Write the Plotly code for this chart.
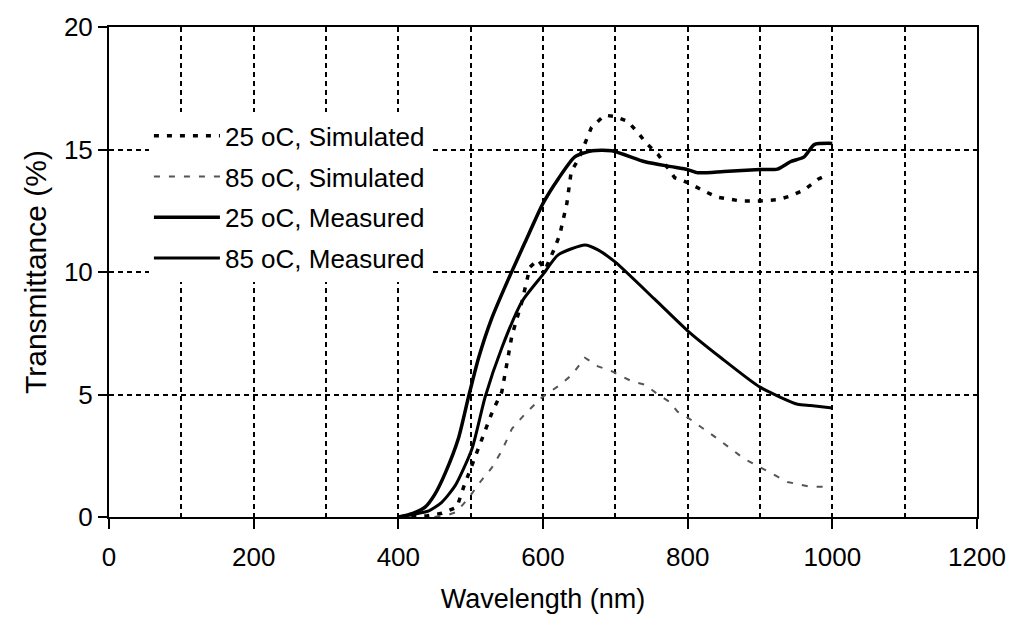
import plotly.graph_objects as go

# ---- data ----
wl_s25 = [400, 440, 460, 481, 490, 500, 510, 520, 530, 543, 550, 557, 571, 582, 593, 603, 615, 623,
          633, 639, 649, 658, 667, 685, 699, 717, 731, 743, 759, 782, 800, 823, 841, 873, 900, 924,
          942, 961, 981, 995]
t_s25 = [0.0, 0.05, 0.15, 0.4, 1.2, 2.0, 2.8, 3.6, 4.3, 5.1, 6.2, 7.4, 8.8, 10.2, 10.5, 10.1, 10.9, 11.5,
         12.8, 14.1, 14.6, 15.3, 15.9, 16.4, 16.35, 16.15, 15.7, 15.25, 14.8, 13.85, 13.65, 13.3, 13.05, 12.9, 12.9, 12.95,
         13.1, 13.35, 13.8, 14.0]

wl_s85 = [450, 470, 480, 497, 515, 529, 543, 557, 575, 598, 621, 640, 658, 676, 695, 722, 741, 759,
          775, 786, 800, 841, 878, 900, 938, 970, 1000]
t_s85 = [0.0, 0.1, 0.2, 0.77, 1.5, 2.0, 2.7, 3.6, 4.2, 4.87, 5.34, 5.8, 6.5, 6.15, 5.95, 5.55, 5.4, 5.0,
         4.7, 4.3, 4.06, 3.2, 2.38, 2.04, 1.43, 1.23, 1.23]

wl_m25 = [400, 420, 437, 450, 465, 483, 497, 511, 529, 552, 575, 600, 621, 644, 668, 695, 741, 777,
          800, 814, 850, 900, 924, 942, 961, 975, 1000]
t_m25 = [0.0, 0.15, 0.4, 0.9, 1.8, 3.2, 4.9, 6.5, 8.1, 9.7, 11.2, 12.8, 13.8, 14.7, 14.95, 14.95, 14.5, 14.3,
         14.18, 14.05, 14.1, 14.18, 14.2, 14.5, 14.7, 15.2, 15.25]

wl_m85 = [400, 420, 442, 460, 479, 502, 520, 543, 571, 600, 621, 658, 676, 700, 754, 800, 846, 900,
          952, 970, 1000]
t_m85 = [0.0, 0.1, 0.25, 0.6, 1.3, 2.8, 4.9, 6.9, 8.8, 9.9, 10.7, 11.1, 10.9, 10.4, 8.9, 7.6, 6.5, 5.3,
         4.6, 4.55, 4.45]

names = ["25 oC, Simulated", "85 oC, Simulated", "25 oC, Measured", "85 oC, Measured"]

FONT = "Liberation Sans, Arial, sans-serif"

fig = go.Figure()
fig.add_trace(go.Scatter(x=wl_s25, y=t_s25, mode="lines", name=names[0], legendgroup="a",
                         line=dict(color="black", width=3.5, dash="5px,8px")))
fig.add_trace(go.Scatter(x=wl_s85, y=t_s85, mode="lines", name=names[1], legendgroup="b",
                         line=dict(color="#555555", width=2, dash="6px,9px")))
fig.add_trace(go.Scatter(x=wl_m25, y=t_m25, mode="lines", name=names[2], legendgroup="c",
                         line=dict(color="black", width=3.5, shape="spline", smoothing=0.6)))
fig.add_trace(go.Scatter(x=wl_m85, y=t_m85, mode="lines", name=names[3], legendgroup="d",
                         line=dict(color="black", width=3, shape="spline", smoothing=0.6)))

grid = dict(showgrid=True, gridcolor="black", gridwidth=2, griddash="5px,4px")

fig.update_layout(
    width=1018, height=621,
    margin=dict(l=109, r=38, t=23, b=104),
    paper_bgcolor="white", plot_bgcolor="white",
    font=dict(family=FONT, size=26, color="black"),
    legend=dict(x=0.046, xanchor="left", y=0.826, yanchor="top",
                bgcolor="white", borderwidth=0, itemwidth=66,
                tracegroupgap=4, font=dict(size=26),
                traceorder="grouped"),
    showlegend=True,
)
fig.update_xaxes(
    range=[0, 1200], dtick=200, tick0=0,
    showline=True, linecolor="black", linewidth=2, mirror=True,
    ticks="outside", ticklen=10, tickwidth=2, tickcolor="black",
    ticklabelstandoff=6,
    minor=dict(dtick=100, showgrid=True, gridcolor="black", gridwidth=2, griddash="5px,4px", ticks=""),
    title=dict(text="Wavelength (nm)", font=dict(size=27), standoff=18),
    zeroline=False, **grid,
)
fig.update_yaxes(
    range=[0, 20], dtick=5, tick0=0,
    showline=True, linecolor="black", linewidth=2, mirror=True,
    ticks="outside", ticklen=9, tickwidth=2, tickcolor="black",
    title=dict(text="Transmittance (%)", font=dict(size=30), standoff=8),
    zeroline=False, **grid,
)

fig.write_html("out.html")
